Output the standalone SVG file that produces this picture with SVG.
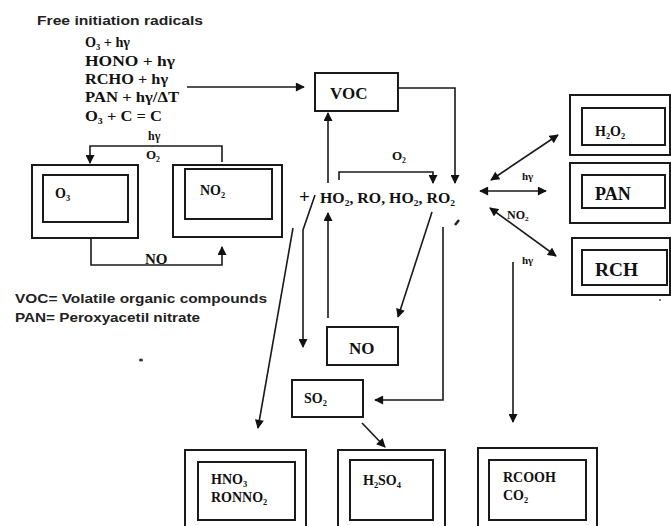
<svg xmlns="http://www.w3.org/2000/svg" width="671" height="526" viewBox="0 0 671 526">
<defs>
<marker id="ah" viewBox="0 0 10 10" refX="9" refY="5" markerWidth="10" markerHeight="9" markerUnits="userSpaceOnUse" orient="auto-start-reverse"><path d="M0,0 L10,5 L0,10 z" fill="#111"/></marker>
<style>
.bx{fill:none;stroke:#1a1a1a;stroke-width:2}
.ln{fill:none;stroke:#1a1a1a;stroke-width:1.6}
.ar{fill:none;stroke:#1a1a1a;stroke-width:1.6;marker-end:url(#ah)}
.ar2{fill:none;stroke:#1a1a1a;stroke-width:1.6;marker-end:url(#ah);marker-start:url(#ah)}
.sf{font-family:"Liberation Serif","Times New Roman",serif;font-weight:bold;fill:#111}
.ss{font-family:"Liberation Sans",Arial,sans-serif;font-weight:bold;fill:#222}
</style>
</defs>
<rect width="671" height="526" fill="#fff"/>

<g id="intro">
<text class="ss" x="37" y="25" font-size="12" textLength="166" lengthAdjust="spacingAndGlyphs">Free initiation radicals</text>
<text class="sf" x="85" y="47" font-size="15" textLength="45" lengthAdjust="spacingAndGlyphs">O₃ + hγ</text>
<text class="sf" x="85" y="66" font-size="15" textLength="90" lengthAdjust="spacingAndGlyphs">HONO + hγ</text>
<text class="sf" x="85" y="84" font-size="15" textLength="83" lengthAdjust="spacingAndGlyphs">RCHO + hγ</text>
<text class="sf" x="85" y="102" font-size="15" textLength="94" lengthAdjust="spacingAndGlyphs">PAN + hγ/ΔT</text>
<text class="sf" x="85" y="121" font-size="15" textLength="77" lengthAdjust="spacingAndGlyphs">O₃ + C = C</text>
</g>

<g id="legend">
<text class="ss" x="15" y="303" font-size="13" textLength="252" lengthAdjust="spacingAndGlyphs">VOC= Volatile organic compounds</text>
<text class="ss" x="15" y="322" font-size="13" textLength="185" lengthAdjust="spacingAndGlyphs">PAN= Peroxyacetil nitrate</text>
</g>

<g id="connectors">
<path class="ar" d="M187,87 H304"/>
<path class="ar" d="M398,88 H455 V183"/>
<path class="ar" d="M328,183 V113"/>
<path class="ar" d="M339,180 V172 H433 V183"/>
<path class="ar" d="M328,318 V213"/>
<path class="ar" d="M315,195 L303,230 V347"/>
<path class="ar" d="M293,228 L258,428"/>
<path class="ar" d="M432,212 L398,317"/>
<path class="ar" d="M443,227 V400 H375"/>
<path class="ar" d="M362,423 L385,447"/>
<path class="ar" d="M513,262 V422"/>
<path class="ar2" d="M491,180 L558,135"/>
<path class="ar2" d="M480,191 H546"/>
<path class="ar2" d="M490,208 L556,256"/>
<path class="ar" d="M222,162 V146 H90 V163"/>
<path class="ar" d="M91,238 V265 H222 V247"/>
<text class="sf" x="148" y="140" font-size="12">hγ</text>
<text class="sf" x="146" y="159" font-size="13">O₂</text>
<text class="sf" x="145" y="264" font-size="15">NO</text>
<text class="sf" x="392" y="160" font-size="13">O₂</text>
<text class="sf" x="522" y="180" font-size="11">hγ</text>
<text class="sf" x="507" y="219" font-size="12">NO₂</text>
<text class="sf" x="522" y="264" font-size="11">hγ</text>
</g>

<g id="radicals">
<text class="sf" x="299" y="203" font-size="19">+</text>
<text class="sf" x="320" y="203" font-size="15" textLength="135" lengthAdjust="spacingAndGlyphs">HO₂, RO, HO₂, RO₂</text>
</g>

<g id="voc">
<rect class="bx" x="315" y="73" width="83" height="38"/>
<text class="sf" x="330" y="99" font-size="17">VOC</text>
</g>

<g id="o3">
<rect class="bx" x="32" y="165" width="106" height="73"/>
<rect class="bx" x="43" y="175" width="85" height="47"/>
<text class="sf" x="55" y="198" font-size="14">O₃</text>
</g>

<g id="no2">
<rect class="bx" x="173" y="165" width="109" height="72"/>
<rect class="bx" x="185" y="169" width="87" height="50"/>
<text class="sf" x="200" y="195" font-size="14">NO₂</text>
</g>

<g id="no">
<rect class="bx" x="327" y="327" width="71" height="38"/>
<text class="sf" x="349" y="354" font-size="17">NO</text>
</g>

<g id="so2">
<rect class="bx" x="292" y="380" width="71" height="37"/>
<text class="sf" x="304" y="403" font-size="14">SO₂</text>
</g>

<g id="h2o2">
<rect class="bx" x="570" y="95" width="100" height="60"/>
<rect class="bx" x="582" y="108" width="83" height="37"/>
<text class="sf" x="595" y="136" font-size="14">H₂O₂</text>
</g>

<g id="pan">
<rect class="bx" x="570" y="163" width="100" height="60"/>
<rect class="bx" x="582" y="175" width="83" height="33"/>
<text class="sf" x="595" y="200" font-size="18">PAN</text>
</g>

<g id="rch">
<rect class="bx" x="572" y="238" width="98" height="57"/>
<rect class="bx" x="582" y="250" width="85" height="35"/>
<text class="sf" x="595" y="276" font-size="18" textLength="43" lengthAdjust="spacingAndGlyphs">RCH</text>
</g>

<g id="hno3">
<rect class="bx" x="185" y="450" width="121" height="80"/>
<rect class="bx" x="198" y="462" width="97" height="58"/>
<text class="sf" x="211" y="484" font-size="14">HNO₃</text>
<text class="sf" x="211" y="502" font-size="14">RONNO₂</text>
</g>

<g id="h2so4">
<rect class="bx" x="338" y="450" width="107" height="80"/>
<rect class="bx" x="350" y="460" width="83" height="60"/>
<text class="sf" x="363" y="485" font-size="14">H₂SO₄</text>
</g>

<g id="rcooh">
<rect class="bx" x="478" y="448" width="119" height="82"/>
<rect class="bx" x="489" y="460" width="97" height="60"/>
<text class="sf" x="503" y="482" font-size="14">RCOOH</text>
<text class="sf" x="503" y="500" font-size="14">CO₂</text>
</g>

<g id="specks">
<ellipse cx="141" cy="360" rx="2" ry="1.5" fill="#333"/>
<ellipse cx="660" cy="300" rx="1" ry="1" fill="#555"/>
<path d="M455,225 L459,220" stroke="#222" stroke-width="2.5"/>
</g>
</svg>
